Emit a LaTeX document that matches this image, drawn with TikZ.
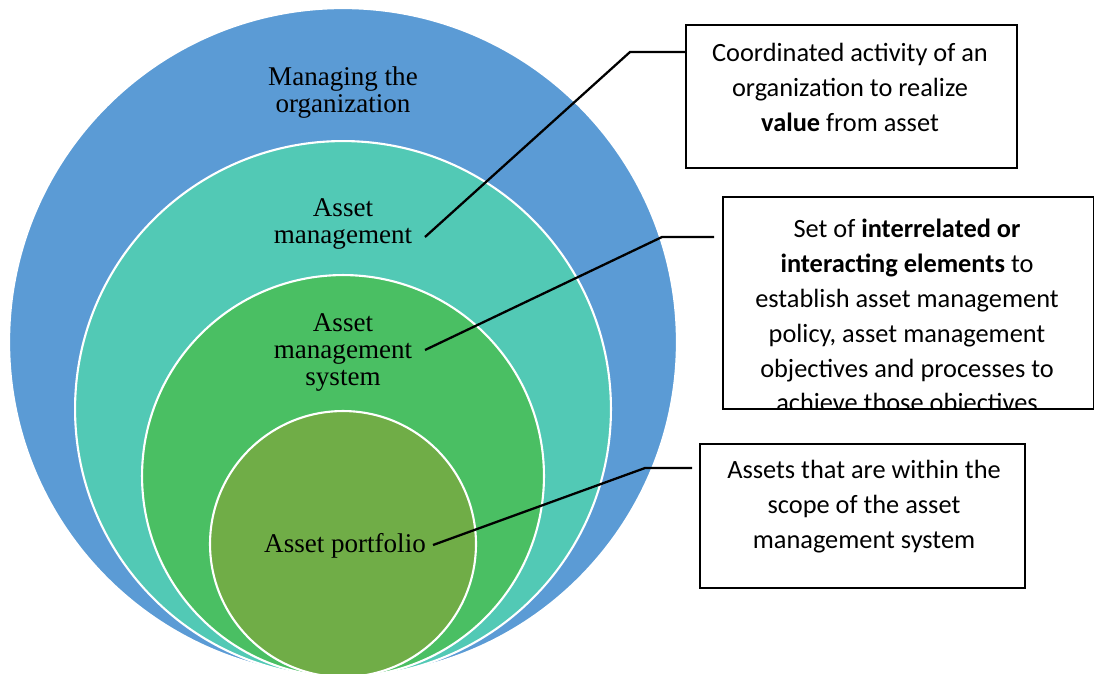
\documentclass[tikz,border=0pt]{standalone}
\usepackage{fontspec}
\setmainfont{Liberation Serif}
\newfontfamily\boxfont{Carlito}
\usetikzlibrary{positioning}
\definecolor{orgblue}{RGB}{91,155,213}
\definecolor{amteal}{RGB}{82,201,181}
\definecolor{amsgreen}{RGB}{74,191,99}
\definecolor{portgreen}{RGB}{112,173,71}
\begin{document}
\begin{tikzpicture}[x=0.02cm,y=-0.02cm,
  ring/.style={circle,draw=white,line width=1.2pt,inner sep=0pt},
  ringtext/.style={font=\fontsize{15.4}{15.4}\selectfont,align=center,inner sep=0pt,anchor=north},
  defbox/.style={draw=black,line width=1.1pt,inner sep=0pt,anchor=north west},
  deftext/.style={font=\boxfont\fontsize{15}{19.8}\selectfont,align=center,inner sep=0pt,anchor=north},
  leader/.style={line width=1.3pt}]
\useasboundingbox (0,0) rectangle (1094,673);
\clip (0,0) rectangle (1094,673);
% nested circles
\node[ring,fill=orgblue,minimum size=13.36cm] (org) at (343,342) {};
\node[ring,fill=amteal,minimum size=10.72cm] (am) at (343,409) {};
\node[ring,fill=amsgreen,minimum size=8.04cm] (ams) at (343,476) {};
\node[ring,fill=portgreen,minimum size=5.32cm] (port) at (343,544) {};
% circle labels
\node[ringtext] (orglbl) at (343,66) {Managing the\\organization};
\node[ringtext] (amlbl) at (343,198) {Asset\\management};
\node[ringtext] (amslbl) at (343,313) {Asset\\management\\system};
\node[ringtext] (portlbl) at (345,533) {Asset portfolio};
% definition boxes
\node[defbox,minimum width=6.62cm,minimum height=2.86cm] (def1) at (685,24) {};
\node[deftext] (def1txt) at (850,43) {Coordinated activity of an\\organization to realize\\\textbf{value} from asset};
\node[defbox,draw=none,minimum width=7.38cm,minimum height=4.2cm] (def2) at (723,197) {};
\begin{scope}
\clip (def2.north west) rectangle (def2.south east);
\node[deftext] (def2txt) at (907,219) {Set of \textbf{interrelated or}\\\textbf{interacting elements} to\\establish asset management\\policy, asset management\\objectives and processes to\\achieve those objectives};
\end{scope}
\draw[line width=1.1pt] (def2.north west) rectangle (def2.south east);
\node[defbox,minimum width=6.5cm,minimum height=2.88cm] (def3) at (699,443) {};
\node[deftext] (def3txt) at (864,460) {Assets that are within the\\scope of the asset\\management system};
% leaders
\coordinate (amtip) at (425,237);
\coordinate (amelbow) at (630,52);
\coordinate (amstip) at (425,350);
\coordinate (amselbow) at (662,237);
\coordinate (amsend) at (714,237);
\coordinate (porttip) at (433,545);
\coordinate (portelbow) at (645,468);
\coordinate (portend) at (692,468);
\draw[leader] (amtip) -- (amelbow) -- (amelbow -| def1.west);
\draw[leader] (amstip) -- (amselbow) -- (amsend);
\draw[leader] (porttip) -- (portelbow) -- (portend);
\end{tikzpicture}
\end{document}
